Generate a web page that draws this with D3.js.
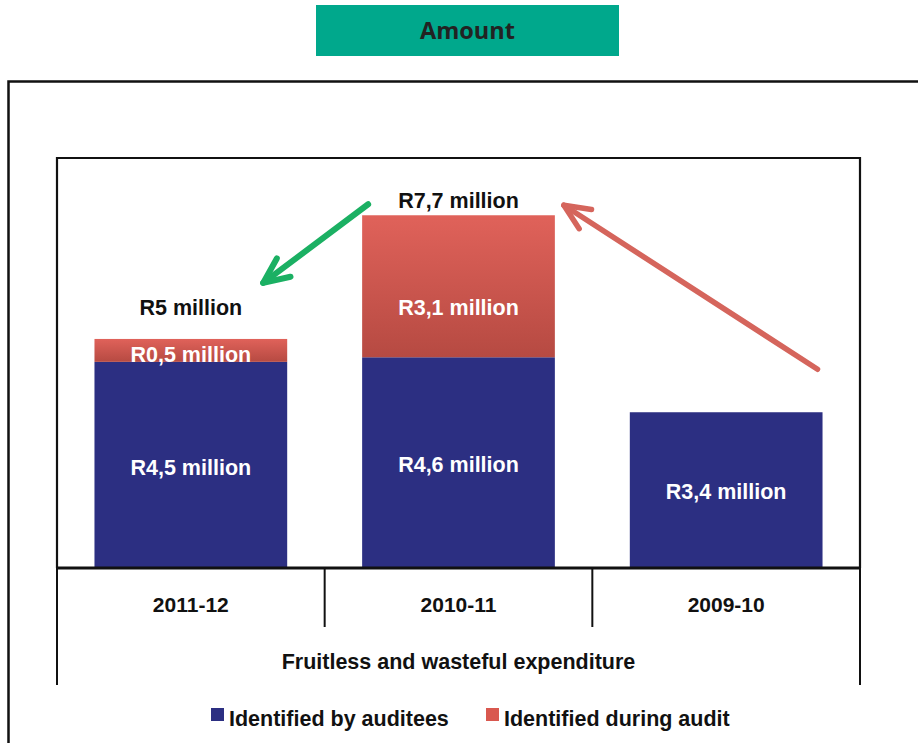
<!DOCTYPE html>
<html>
<head>
<meta charset="utf-8">
<script src="https://cdn.jsdelivr.net/npm/d3@7"></script>
<style>
  html, body { margin: 0; padding: 0; background: #fff; }
  svg { display: block; }
</style>
</head>
<body>
<svg id="chart" width="918" height="743"></svg>
<script>
// Fruitless and wasteful expenditure, R million per financial year
const years = ["2011-12", "2010-11", "2009-10"];
const byAuditees = [4.5, 4.6, 3.4];
const duringAudit = [0.5, 3.1, 0];
const totals = [5, 7.7, 3.4];
const auditeeLabels = ["R4,5 million", "R4,6 million", "R3,4 million"];
const auditLabels = ["R0,5 million", "R3,1 million", ""];
const totalLabels = ["R5 million", "R7,7 million", ""];
const seriesNames = ["Identified by auditees", "Identified during audit"];

(function () {
const svg = d3.select("#chart");
const font = "'Liberation Sans', Arial, sans-serif";
const blue = "#2c2f82";

// heading box
svg.append("rect").attr("x", 316).attr("y", 5).attr("width", 303).attr("height", 51)
  .attr("fill", "#00a88c");
svg.append("text").attr("x", 467.5).attr("y", 31).attr("dy", "0.36em")
  .attr("text-anchor", "middle").attr("font-family", "'Open Sans', sans-serif")
  .attr("font-weight", 700).attr("font-size", 23.5).attr("fill", "#222")
  .text("Amount");

// outer panel border (open towards right and bottom)
svg.append("path").attr("d", "M8.5,743 V81.5 H918")
  .attr("fill", "none").attr("stroke", "#111").attr("stroke-width", 2.5);

// plot area
const plotL = 57, plotR = 860, plotT = 158, base = 568;
const x = d3.scaleBand().domain(years).range([plotL, plotR])
  .paddingInner(0.28).paddingOuter(0.14);
const y = d3.scaleLinear().domain([0, 8.95]).range([base, plotT]);
const bw = x.bandwidth();

const defs = svg.append("defs");
const grad = defs.append("linearGradient").attr("id", "redGrad")
  .attr("x1", 0).attr("y1", 0).attr("x2", 0).attr("y2", 1);
grad.append("stop").attr("offset", "0%").attr("stop-color", "#e0625a");
grad.append("stop").attr("offset", "100%").attr("stop-color", "#b64a42");

// frame: top, left, right
svg.append("path").attr("d", `M${plotL},${base} V${plotT} H${plotR} V${base}`)
  .attr("fill", "none").attr("stroke", "#111").attr("stroke-width", 2.2);

const data = years.map((yr, i) => ({
  yr, a: byAuditees[i], b: duringAudit[i], t: totals[i],
  la: auditeeLabels[i], lb: auditLabels[i], lt: totalLabels[i]
}));

// stacked bars
svg.append("g").selectAll("rect").data(data).join("rect")
  .attr("x", d => x(d.yr)).attr("width", bw)
  .attr("y", d => y(d.a)).attr("height", d => y(0) - y(d.a))
  .attr("fill", blue);
svg.append("g").selectAll("rect").data(data.filter(d => d.b > 0)).join("rect")
  .attr("x", d => x(d.yr)).attr("width", bw)
  .attr("y", d => y(d.a + d.b)).attr("height", d => y(d.a) - y(d.a + d.b))
  .attr("fill", "url(#redGrad)");

// value labels inside segments
const lab = svg.append("g").attr("font-family", font).attr("font-weight", 700)
  .attr("font-size", 21.5).attr("text-anchor", "middle");
lab.selectAll(".la").data(data).join("text").attr("class", "la")
  .attr("x", d => x(d.yr) + bw / 2).attr("y", d => y(d.a * 0.49)).attr("dy", "0.36em")
  .attr("fill", "#fff").text(d => d.la);
lab.selectAll(".lb").data(data.filter(d => d.b > 0)).join("text").attr("class", "lb")
  .attr("x", d => x(d.yr) + bw / 2).attr("y", d => y(d.a + d.b * 0.35)).attr("dy", "0.36em")
  .attr("fill", "#fff").text(d => d.lb);

// totals above the bars
const totalGap = [32, 15, 0];
lab.selectAll(".lt").data(data.filter(d => d.lt)).join("text").attr("class", "lt")
  .attr("x", d => x(d.yr) + bw / 2)
  .attr("y", d => y(d.t) - totalGap[years.indexOf(d.yr)]).attr("dy", "0.36em")
  .attr("fill", "#111").text(d => d.lt);

// axis line and category table
svg.append("line").attr("x1", plotL).attr("x2", plotR).attr("y1", base).attr("y2", base)
  .attr("stroke", "#111").attr("stroke-width", 2.8);
const table = svg.append("g").attr("stroke", "#111").attr("stroke-width", 2);
table.append("line").attr("x1", plotL).attr("x2", plotL).attr("y1", base).attr("y2", 685);
table.append("line").attr("x1", plotR).attr("x2", plotR).attr("y1", base).attr("y2", 685);
years.slice(1).forEach(yr => {
  const xs = x(yr) - x.step() * x.paddingInner() / 2;
  table.append("line").attr("x1", xs).attr("x2", xs).attr("y1", base).attr("y2", 627);
});
svg.append("g").selectAll("text").data(years).join("text")
  .attr("x", d => x(d) + bw / 2).attr("y", 604).attr("dy", "0.36em")
  .attr("text-anchor", "middle").attr("font-family", font).attr("font-weight", 700)
  .attr("font-size", 21).attr("fill", "#111").text(d => d);
svg.append("text").attr("x", (plotL + plotR) / 2).attr("y", 661).attr("dy", "0.36em")
  .attr("text-anchor", "middle").attr("font-family", font).attr("font-weight", 700)
  .attr("font-size", 21.5).attr("fill", "#111").text("Fruitless and wasteful expenditure");

// trend arrows
function arrow(x1, y1, x2, y2, color, w) {
  const g = svg.append("g").attr("stroke", color).attr("stroke-width", w)
    .attr("fill", "none").attr("stroke-linecap", "round").attr("stroke-linejoin", "round");
  const ang = Math.atan2(y1 - y2, x1 - x2), spread = 24 * Math.PI / 180, len = 28;
  g.append("line").attr("x1", x1).attr("y1", y1).attr("x2", x2).attr("y2", y2);
  g.append("path").attr("d",
    `M${x2 + len * Math.cos(ang - spread)},${y2 + len * Math.sin(ang - spread)}` +
    `L${x2},${y2}` +
    `L${x2 + len * Math.cos(ang + spread)},${y2 + len * Math.sin(ang + spread)}`);
}
arrow(x(years[1]) + 6, y(totals[1]) - 11, x(years[0]) + bw - 24, y(totals[0]) - 56, "#1bb063", 6);
arrow(x(years[2]) + bw - 5, y(totals[2]) - 43, x(years[1]) + bw + 9, y(totals[1]) - 10, "#d5655c", 5.5);

// legend
const legend = svg.append("g").attr("font-family", font).attr("font-weight", 700)
  .attr("font-size", 21.5).attr("fill", "#111");
const legendX = [211, 486];
const legendColors = [blue, "#d9584f"];
seriesNames.forEach((name, i) => {
  legend.append("rect").attr("x", legendX[i]).attr("y", 708).attr("width", 13).attr("height", 13)
    .attr("fill", legendColors[i]);
  legend.append("text").attr("x", legendX[i] + 18).attr("y", 718).attr("dy", "0.36em").text(name);
});
})();
</script>
</body>
</html>
